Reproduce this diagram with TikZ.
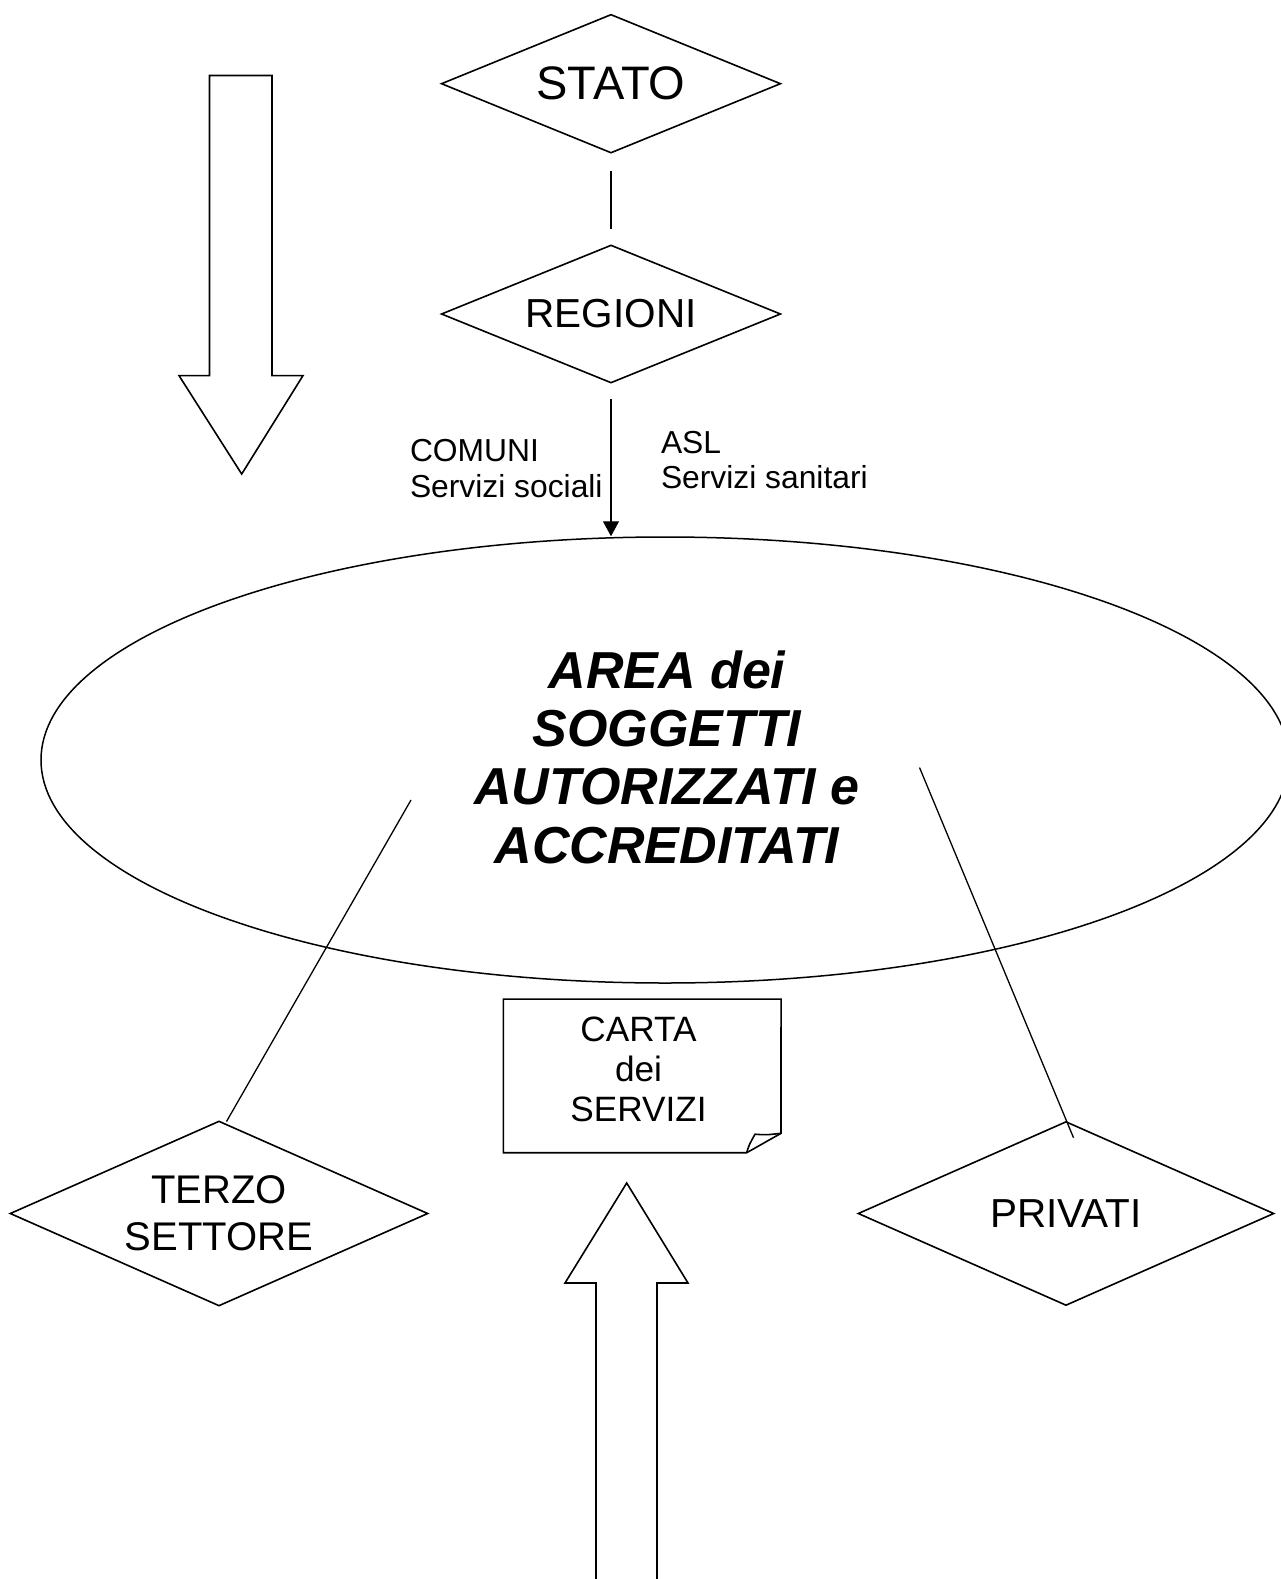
\documentclass[tikz,border=0pt]{standalone}
\usepackage{fontspec}
\setmainfont{Liberation Sans}
\usetikzlibrary{shapes.geometric,arrows.meta}
\begin{document}
\begin{tikzpicture}[x=1pt,y=-1pt]
\tikzset{
  shp/.style={draw=black, line width=1.6pt},
  dia/.style={shp, diamond, inner sep=0pt, align=center},
  conn/.style={draw=black, line width=1.3pt},
  txt/.style={inner sep=0pt, outer sep=0pt},
}
\useasboundingbox (0,0) rectangle (1280,1579);
\fill[white] (0,0) rectangle (1280,1579);

% left block arrow (downwards)
\draw[shp] (209.5,75.5) -- (272,75.5) -- (272,375.6) -- (303,375.6) -- (241.7,474) -- (179,375.6) -- (209.5,375.6) -- cycle;

% diamonds
\node[dia, aspect=2.448, minimum width=339.5pt, minimum height=138.7pt, font=\fontsize{47}{54}\selectfont] (stato) at (611,83.7) {STATO};
\node[dia, aspect=2.46, minimum width=339.5pt, minimum height=138pt, font=\fontsize{40.5}{47}\selectfont] (regioni) at (611,314) {REGIONI};
\node[dia, aspect=2.26, minimum width=418pt, minimum height=185pt, font=\fontsize{40}{47.3}\selectfont] (terzo) at (219,1213.5) {TERZO\\SETTORE};
\node[dia, aspect=2.26, minimum width=416pt, minimum height=184pt, font=\fontsize{40.5}{47}\selectfont] (privati) at (1066,1213.5) {PRIVATI};

% ellipse
\node[shp, ellipse, minimum width=1248pt, minimum height=446pt, inner sep=0pt, line width=1.5pt] (area) at (665,760) {};
\node[txt, align=center, font=\fontsize{52}{58.3}\selectfont\bfseries\itshape] (areatxt) at (667,757) {AREA dei\\SOGGETTI\\AUTORIZZATI e\\ACCREDITATI};

% connectors
\draw[conn, shorten <=17pt, shorten >=15.4pt] (stato.south) -- (regioni.north);
\draw[conn, shorten <=15pt, -{Triangle[length=15pt,width=16pt]}] (regioni.south) -- (regioni.south |- area.north);

% labels beside the arrow
\node[txt, anchor=north west, align=left, font=\fontsize{31.8}{36.3}\selectfont] (comuni) at (410,438.9) {COMUNI\\Servizi sociali};
\node[txt, anchor=north west, align=left, font=\fontsize{31.8}{35}\selectfont] (asl) at (661,431.2) {ASL\\Servizi sanitari};

% lines from the area to the diamonds
\coordinate (lt) at (411,800);
\coordinate (lb) at (226.5,1121.5);
\coordinate (rt) at (919.5,767.5);
\coordinate (rb) at (1073.5,1137.7);
\draw[conn] (lt) -- (lb);
\draw[conn] (rt) -- (rb);

% carta dei servizi (document with folded corner)
\node[txt, minimum width=277.7pt, minimum height=153.7pt] (carta) at (642.2,1075.9) {};
\draw[shp] (carta.north west) -- (carta.north east) -- (781,1133.3) -- (746.7,1152.7) -- (carta.south west) -- cycle;
\draw[shp, line join=round] (746.7,1152.7) .. controls (749,1145) .. (755,1134.2) .. controls (766,1135) .. (781,1133.3);
\node[txt, align=center, font=\fontsize{35.2}{40.3}\selectfont] (cartatxt) at (638.5,1069.2) {CARTA\\dei\\SERVIZI};

% bottom block arrow (upwards, open at the bottom)
\draw[shp] (596,1579) -- (596,1283) -- (565,1283) -- (626.7,1183) -- (688,1283) -- (657,1283) -- (657,1579);
\end{tikzpicture}
\end{document}
